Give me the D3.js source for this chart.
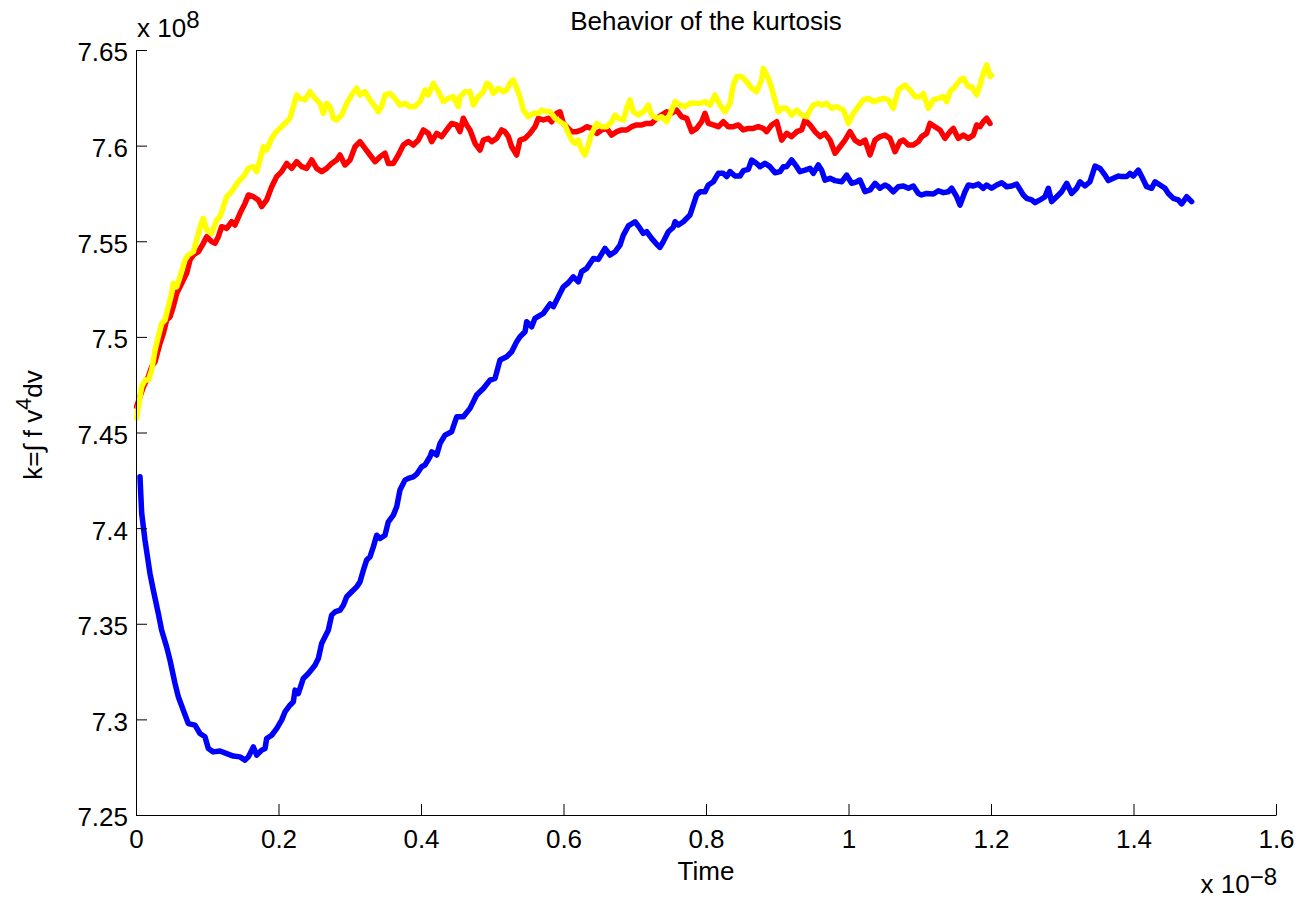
<!DOCTYPE html>
<html>
<head>
<meta charset="utf-8">
<script src="https://cdn.jsdelivr.net/npm/d3@7"></script>
<style>
  body { margin: 0; background: #fff; }
  svg text { font-family: "Liberation Sans", Arial, Helvetica, sans-serif; fill: #000; }
</style>
</head>
<body>
<div id="chart"></div>
<script>
// ticks (time in units of 1e-8, kurtosis in units of 1e8)
var xTicks = [0, 0.2, 0.4, 0.6, 0.8, 1, 1.2, 1.4, 1.6];
var xTickLabels = ["0", "0.2", "0.4", "0.6", "0.8", "1", "1.2", "1.4", "1.6"];
var yTicks = [7.25, 7.3, 7.35, 7.4, 7.45, 7.5, 7.55, 7.6, 7.65];
var yTickLabels = ["7.25", "7.3", "7.35", "7.4", "7.45", "7.5", "7.55", "7.6", "7.65"];

// [time, k] pairs
var blueSeries = [
  [0.0056,7.4268],[0.0080,7.4077],[0.0126,7.3937],[0.0196,7.3763],[0.0243,7.3676],[0.0313,7.3554],
  [0.0360,7.3466],[0.0430,7.3379],[0.0477,7.3310],[0.0547,7.3188],[0.0594,7.3118],[0.0664,7.3048],
  [0.0734,7.2978],[0.0828,7.2970],[0.0898,7.2926],[0.0968,7.2909],[0.1015,7.2848],[0.1085,7.2830],
  [0.1179,7.2835],[0.1273,7.2821],[0.1366,7.2808],[0.1460,7.2804],[0.1530,7.2787],[0.1577,7.2804],
  [0.1647,7.2856],[0.1694,7.2813],[0.1764,7.2839],[0.1811,7.2848],[0.1834,7.2900],[0.1904,7.2917],
  [0.1974,7.2952],[0.2044,7.2996],[0.2091,7.3039],[0.2161,7.3074],[0.2208,7.3092],[0.2232,7.3153],
  [0.2278,7.3135],[0.2348,7.3214],[0.2419,7.3240],[0.2512,7.3283],[0.2559,7.3318],[0.2606,7.3397],
  [0.2653,7.3432],[0.2699,7.3466],[0.2746,7.3545],[0.2793,7.3562],[0.2863,7.3571],[0.2910,7.3597],
  [0.2957,7.3641],[0.3027,7.3667],[0.3097,7.3693],[0.3144,7.3719],[0.3191,7.3780],[0.3237,7.3833],
  [0.3284,7.3850],[0.3331,7.3902],[0.3378,7.3963],[0.3425,7.3946],[0.3495,7.3963],[0.3541,7.4033],
  [0.3612,7.4068],[0.3659,7.4112],[0.3705,7.4199],[0.3775,7.4251],[0.3822,7.4260],[0.3892,7.4268],
  [0.3939,7.4282],[0.4009,7.4321],[0.4056,7.4330],[0.4126,7.4373],
  [0.4150,7.4399],[0.4220,7.4382],[0.4267,7.4443],[0.4337,7.4486],[0.4430,7.4504],[0.4501,7.4582],
  [0.4594,7.4582],[0.4688,7.4626],[0.4781,7.4696],[0.4875,7.4730],[0.4968,7.4774],[0.5039,7.4783],
  [0.5109,7.4879],[0.5202,7.4896],[0.5273,7.4922],[0.5343,7.4975],[0.5389,7.5001],[0.5460,7.5027],
  [0.5483,7.5079],[0.5553,7.5053],[0.5600,7.5097],[0.5717,7.5123],[0.5811,7.5172],[0.5857,7.5158],
  [0.5927,7.5210],[0.5998,7.5262],[0.6068,7.5283],[0.6138,7.5314],[0.6208,7.5288],[0.6255,7.5341],
  [0.6325,7.5358],[0.6419,7.5410],[0.6489,7.5405],[0.6582,7.5463],[0.6653,7.5428],[0.6723,7.5445],
  [0.6793,7.5480],[0.6840,7.5532],[0.6910,7.5580],[0.7004,7.5602],[0.7074,7.5567],[0.7120,7.5541],
  [0.7167,7.5550],[0.7237,7.5515],[0.7308,7.5484],[0.7354,7.5468],[0.7401,7.5498],[0.7471,7.5550],
  [0.7541,7.5573],[0.7565,7.5602],[0.7612,7.5585],[0.7682,7.5602],[0.7775,7.5637],[0.7869,7.5742],
  [0.7916,7.5759],[0.7986,7.5759],[0.8033,7.5794],[0.8103,7.5811],[0.8173,7.5855],[0.8243,7.5855],
  [0.8290,7.5838],[0.8337,7.5864],[0.8407,7.5841],[0.8477,7.5841],[0.8524,7.5869],[0.8594,7.5876],
  [0.8641,7.5925],[0.8711,7.5907],[0.8758,7.5890],[0.8828,7.5907],[0.8898,7.5890],[0.8968,7.5858],
  [0.9039,7.5864],
  [0.9085,7.5890],[0.9132,7.5890],[0.9202,7.5925],[0.9273,7.5890],[0.9319,7.5864],[0.9389,7.5872],
  [0.9460,7.5881],[0.9506,7.5855],[0.9577,7.5899],[0.9623,7.5872],[0.9670,7.5820],[0.9740,7.5829],
  [0.9811,7.5817],[0.9904,7.5811],[0.9974,7.5846],[1.0044,7.5803],[1.0115,7.5811],[1.0161,7.5820],
  [1.0232,7.5759],[1.0302,7.5768],[1.0372,7.5803],[1.0442,7.5777],[1.0512,7.5794],[1.0559,7.5785],
  [1.0629,7.5759],[1.0699,7.5785],[1.0770,7.5789],[1.0840,7.5777],[1.0910,7.5789],[1.0980,7.5750],
  [1.1027,7.5742],[1.1097,7.5750],[1.1191,7.5747],[1.1261,7.5764],[1.1331,7.5754],[1.1401,7.5759],
  [1.1448,7.5777],[1.1518,7.5733],[1.1565,7.5689],[1.1635,7.5759],[1.1682,7.5794],[1.1752,7.5789],
  [1.1822,7.5799],[1.1892,7.5777],[1.1939,7.5794],[1.2009,7.5777],[1.2080,7.5794],[1.2150,7.5806],
  [1.2220,7.5785],[1.2290,7.5789],[1.2360,7.5799],[1.2454,7.5742],[1.2501,7.5724],[1.2571,7.5716],
  [1.2618,7.5702],[1.2688,7.5716],[1.2758,7.5733],[1.2805,7.5777],[1.2851,7.5707],[1.2922,7.5733],
  [1.2992,7.5759],[1.3062,7.5803],[1.3132,7.5750],[1.3202,7.5777],[1.3249,7.5811],[1.3319,7.5789],
  [1.3389,7.5811],[1.3460,7.5893],[1.3530,7.5881],[1.3600,7.5846],[1.3647,7.5817],[1.3717,7.5829],
  [1.3787,7.5841],[1.3834,7.5838],[1.3904,7.5838],[1.3951,7.5855],[1.3998,7.5841],[1.4068,7.5872],
  [1.4115,7.5838],[1.4185,7.5785],[1.4255,7.5777],[1.4302,7.5811],[1.4372,7.5794],[1.4442,7.5777],
  [1.4489,7.5750],[1.4559,7.5724],[1.4629,7.5716],[1.4676,7.5695],[1.4746,7.5733],[1.4816,7.5707]
];

var redSeries = [
  [0.0009,7.4635],[0.0056,7.4687],[0.0103,7.4739],[0.0173,7.4791],[0.0220,7.4844],[0.0267,7.4870],
  [0.0337,7.4966],[0.0384,7.5018],[0.0430,7.5088],[0.0477,7.5105],[0.0524,7.5158],[0.0571,7.5227],
  [0.0618,7.5262],[0.0664,7.5297],[0.0711,7.5332],[0.0758,7.5402],[0.0805,7.5428],[0.0875,7.5445],
  [0.0945,7.5489],[0.0992,7.5524],[0.1062,7.5498],[0.1109,7.5489],[0.1156,7.5524],
  [0.1202,7.5576],[0.1273,7.5567],[0.1343,7.5602],[0.1389,7.5585],[0.1460,7.5646],[0.1530,7.5698],
  [0.1577,7.5742],[0.1647,7.5733],[0.1717,7.5716],[0.1764,7.5681],[0.1834,7.5716],[0.1904,7.5785],
  [0.1974,7.5838],[0.2044,7.5864],[0.2115,7.5907],[0.2185,7.5881],[0.2255,7.5916],[0.2325,7.5890],
  [0.2395,7.5881],[0.2466,7.5925],[0.2536,7.5881],[0.2606,7.5864],[0.2676,7.5881],[0.2746,7.5907],
  [0.2816,7.5925],[0.2863,7.5951],[0.2933,7.5899],[0.3004,7.5925],[0.3074,7.5994],[0.3144,7.6021],
  [0.3214,7.5986],[0.3284,7.5951],[0.3354,7.5916],[0.3425,7.5942],[0.3495,7.5960],[0.3541,7.5907],
  [0.3612,7.5907],[0.3682,7.5951],[0.3752,7.6003],[0.3822,7.6021],[0.3892,7.6003],[0.3963,7.6029],
  [0.4033,7.6082],[0.4103,7.6064],[0.4150,7.6021],[0.4220,7.6064],[0.4290,7.6047],[0.4360,7.6082],
  [0.4430,7.6116],[0.4501,7.6108],[0.4547,7.6073],
  [0.4594,7.6143],[0.4641,7.6108],[0.4688,7.6082],[0.4758,7.6012],[0.4828,7.5977],[0.4875,7.6029],
  [0.4945,7.6038],[0.4992,7.6021],[0.5062,7.6038],[0.5132,7.6082],[0.5179,7.6073],[0.5226,7.6047],
  [0.5273,7.5994],[0.5343,7.5951],[0.5389,7.6029],[0.5460,7.6038],[0.5530,7.6064],[0.5600,7.6099],
  [0.5647,7.6143],[0.5717,7.6134],[0.5787,7.6143],[0.5834,7.6125],[0.5904,7.6169],[0.5951,7.6177],
  [0.5998,7.6116],[0.6044,7.6099],[0.6115,7.6073],[0.6185,7.6073],[0.6255,7.6082],[0.6325,7.6099],
  [0.6395,7.6090],[0.6466,7.6064],[0.6536,7.6082],[0.6606,7.6090],[0.6676,7.6055],[0.6746,7.6073],
  [0.6816,7.6082],[0.6887,7.6082],[0.6957,7.6099],[0.7027,7.6108],[0.7097,7.6108],[0.7167,7.6116],
  [0.7237,7.6116],[0.7308,7.6143],[0.7378,7.6160],[0.7448,7.6177],[0.7518,7.6169],[0.7588,7.6186],
  [0.7659,7.6151],[0.7729,7.6143],[0.7799,7.6073],[0.7869,7.6090],[0.7939,7.6125],[0.7986,7.6169],
  [0.8033,7.6116],[0.8103,7.6108],[0.8173,7.6099],[0.8243,7.6125],[0.8313,7.6099],[0.8384,7.6099],
  [0.8454,7.6108],[0.8524,7.6082],[0.8594,7.6090],[0.8664,7.6090],[0.8734,7.6099],[0.8805,7.6090],
  [0.8852,7.6073],[0.8922,7.6108],[0.8992,7.6125],[0.9062,7.6029],[0.9132,7.6064],[0.9202,7.6047],
  [0.9273,7.6073],[0.9343,7.6082],[0.9389,7.6134],[0.9460,7.6108],[0.9530,7.6073],[0.9600,7.6047],
  [0.9670,7.6064],[0.9740,7.6029],[0.9811,7.5960],[0.9881,7.5994],[0.9951,7.6029],[1.0021,7.6073],
  [1.0091,7.6029],[1.0161,7.6012],[1.0232,7.6029],[1.0302,7.5951],[1.0372,7.6029],[1.0442,7.6047],
  [1.0512,7.6055],[1.0582,7.6038],[1.0653,7.5968],[1.0723,7.6021],
  [1.0770,7.6029],[1.0840,7.6003],[1.0910,7.6003],[1.0980,7.6021],[1.1027,7.6047],[1.1097,7.6064],
  [1.1144,7.6116],[1.1214,7.6099],[1.1284,7.6082],[1.1354,7.6038],[1.1425,7.6073],[1.1471,7.6090],
  [1.1541,7.6038],[1.1612,7.6055],[1.1682,7.6038],[1.1752,7.6055],[1.1799,7.6108],[1.1846,7.6099],
  [1.1892,7.6125],[1.1939,7.6143],[1.1986,7.6116]
];

var yellowSeries = [
  [0.0009,7.4574],[0.0033,7.4635],[0.0080,7.4739],[0.0126,7.4774],[0.0173,7.4774],[0.0220,7.4826],
  [0.0267,7.4931],[0.0313,7.5001],[0.0360,7.5070],[0.0407,7.5088],[0.0454,7.5158],[0.0501,7.5227],
  [0.0524,7.5280],[0.0571,7.5262],[0.0618,7.5314],[0.0688,7.5402],[0.0734,7.5428],[0.0805,7.5445],
  [0.0851,7.5506],[0.0922,7.5602],[0.0945,7.5620],[0.0992,7.5559],[0.1062,7.5541],[0.1132,7.5611],
  [0.1179,7.5628],[0.1226,7.5681],[0.1273,7.5733],[0.1319,7.5750],[0.1389,7.5785],[0.1436,7.5811],
  [0.1506,7.5838],[0.1577,7.5881],[0.1647,7.5890],[0.1694,7.5864],[0.1740,7.5925],[0.1787,7.5994],
  [0.1834,7.5977],[0.1904,7.6038],[0.1951,7.6064],[0.1998,7.6082],[0.2068,7.6108],[0.2115,7.6125],
  [0.2161,7.6143],[0.2208,7.6204],[0.2255,7.6265],[0.2302,7.6247],[0.2372,7.6239],[0.2442,7.6282],
  [0.2512,7.6247],[0.2582,7.6221],[0.2629,7.6169],[0.2676,7.6221],[0.2723,7.6204],[0.2770,7.6143],
  [0.2816,7.6134],[0.2887,7.6160],[0.2957,7.6221],[0.3027,7.6265],[0.3097,7.6300],[0.3144,7.6265],
  [0.3214,7.6282],[0.3284,7.6239],[0.3354,7.6204],[0.3401,7.6177],[0.3448,7.6204],[0.3495,7.6265],
  [0.3565,7.6273],[0.3635,7.6247],[0.3705,7.6212],[0.3775,7.6221],[0.3846,7.6204],[0.3916,7.6204],
  [0.3986,7.6230],[0.4056,7.6291],[0.4103,7.6265],[0.4173,7.6326],[0.4243,7.6282],[0.4313,7.6230],
  [0.4384,7.6247],[0.4454,7.6256],[0.4524,7.6204],
  [0.4547,7.6256],[0.4618,7.6282],[0.4688,7.6282],[0.4735,7.6212],[0.4805,7.6256],[0.4875,7.6282],
  [0.4922,7.6326],[0.4968,7.6317],[0.5015,7.6273],[0.5085,7.6300],[0.5156,7.6282],[0.5202,7.6291],
  [0.5249,7.6326],[0.5296,7.6343],[0.5343,7.6300],[0.5389,7.6256],[0.5436,7.6186],[0.5506,7.6151],
  [0.5577,7.6169],[0.5647,7.6169],[0.5694,7.6186],[0.5764,7.6177],[0.5811,7.6177],[0.5881,7.6143],
  [0.5951,7.6125],[0.6021,7.6108],[0.6068,7.6064],[0.6115,7.6029],[0.6161,7.6012],[0.6208,7.6029],
  [0.6255,7.5977],[0.6302,7.5951],[0.6348,7.6003],[0.6395,7.6064],[0.6466,7.6116],[0.6536,7.6099],
  [0.6606,7.6099],[0.6676,7.6125],[0.6723,7.6160],[0.6770,7.6143],[0.6840,7.6134],[0.6887,7.6195],
  [0.6933,7.6239],[0.6980,7.6177],[0.7050,7.6160],[0.7120,7.6177],[0.7191,7.6212],[0.7237,7.6160],
  [0.7308,7.6143],[0.7378,7.6151],[0.7448,7.6125],[0.7518,7.6186],[0.7565,7.6230],[0.7635,7.6212],
  [0.7705,7.6204],[0.7775,7.6221],[0.7846,7.6221],[0.7916,7.6221],[0.7986,7.6230],[0.8056,7.6212],
  [0.8126,7.6265],[0.8196,7.6212],[0.8267,7.6177],[0.8337,7.6221],[0.8384,7.6317],[0.8430,7.6361],
  [0.8501,7.6361],[0.8571,7.6334],[0.8641,7.6300],[0.8711,7.6282],[0.8781,7.6343],[0.8805,7.6404],
  [0.8875,7.6352],[0.8922,7.6300],[0.8968,7.6239],[0.9015,7.6177],[0.9062,7.6195],[0.9132,7.6195],
  [0.9202,7.6160],[0.9273,7.6186],[0.9343,7.6160],[0.9413,7.6151],[0.9460,7.6186],[0.9506,7.6212],
  [0.9577,7.6221],[0.9623,7.6212],[0.9694,7.6221],[0.9764,7.6195],[0.9834,7.6204],[0.9928,7.6186],
  [0.9998,7.6116],[1.0068,7.6169],[1.0138,7.6204],[1.0208,7.6239],[1.0278,7.6247],[1.0349,7.6230],
  [1.0419,7.6239],[1.0489,7.6247],[1.0559,7.6239],[1.0629,7.6195],[1.0699,7.6291],
  [1.0793,7.6317],[1.0863,7.6291],[1.0933,7.6256],[1.1004,7.6256],[1.1050,7.6273],[1.1121,7.6195],
  [1.1191,7.6239],[1.1261,7.6247],[1.1331,7.6256],[1.1378,7.6230],[1.1425,7.6282],[1.1495,7.6308],
  [1.1565,7.6343],[1.1612,7.6352],[1.1682,7.6308],[1.1729,7.6308],[1.1799,7.6265],[1.1846,7.6317],
  [1.1892,7.6378],[1.1939,7.6422],[1.1986,7.6361],[1.2009,7.6369]
];

var seriesList = [
  { data: blueSeries, color: "#0000ff" },
  { data: redSeries, color: "#ff0000" },
  { data: yellowSeries, color: "#ffff00" }
];

var width = 1301, height = 898;
var margin = { top: 50, right: 25, bottom: 83, left: 136 };
var fontSize = 26;

var svg = d3.select("#chart").append("svg")
  .attr("width", width)
  .attr("height", height);

var x = d3.scaleLinear().domain([0, 1.6]).range([margin.left, width - margin.right]);
var y = d3.scaleLinear().domain([7.25, 7.65]).range([height - margin.bottom, margin.top]);

// data lines
var line = d3.line()
  .x(function(d) { return x(d[0]); })
  .y(function(d) { return y(d[1]); });

svg.selectAll("path.series")
  .data(seriesList)
  .enter().append("path")
  .attr("class", "series")
  .attr("d", function(d) { return line(d.data); })
  .style("fill", "none")
  .style("stroke", function(d) { return d.color; })
  .style("stroke-width", "5.5px")
  .style("stroke-linejoin", "round")
  .style("stroke-linecap", "round");

// axes, ticks pointing inward like matlab
var xAxis = d3.axisBottom(x)
  .tickValues(xTicks)
  .tickFormat(function(d, i) { return xTickLabels[i]; })
  .tickSize(-11)
  .tickSizeOuter(0)
  .tickPadding(15);

var yAxis = d3.axisLeft(y)
  .tickValues(yTicks)
  .tickFormat(function(d, i) { return yTickLabels[i]; })
  .tickSize(-11)
  .tickSizeOuter(0)
  .tickPadding(8);

var gx = svg.append("g")
  .attr("transform", "translate(0," + (height - margin.bottom) + ")")
  .call(xAxis);
var gy = svg.append("g")
  .attr("transform", "translate(" + margin.left + ",0)")
  .call(yAxis);

[gx, gy].forEach(function(g) {
  g.attr("font-family", null).attr("font-size", null);
  g.selectAll("text").style("font-size", fontSize + "px");
  g.selectAll("line").style("stroke", "#000");
  g.select(".domain").style("stroke", "#000");
});
gy.selectAll("text").attr("dy", "0.42em");

// title
svg.append("text")
  .attr("x", (x(0) + x(1.6)) / 2)
  .attr("y", 30)
  .attr("text-anchor", "middle")
  .style("font-size", fontSize + "px")
  .text("Behavior of the kurtosis");

// x label
svg.append("text")
  .attr("x", (x(0) + x(1.6)) / 2)
  .attr("y", 880)
  .attr("text-anchor", "middle")
  .style("font-size", fontSize + "px")
  .text("Time");

// exponent labels
var expY = svg.append("text")
  .attr("x", margin.left + 1)
  .attr("y", 37)
  .style("font-size", fontSize + "px");
expY.append("tspan").text("x 10");
expY.append("tspan").attr("dy", -9).style("font-size", "24px").text("8");

var expX = svg.append("text")
  .attr("x", x(1.6) + 1)
  .attr("y", 893)
  .attr("text-anchor", "end")
  .style("font-size", fontSize + "px");
expX.append("tspan").text("x 10");
expX.append("tspan").attr("dy", -8).style("font-size", "24px").text("\u22128");

// y label
var ylab = svg.append("text")
  .attr("transform", "translate(42," + 425 + ") rotate(-90)")
  .attr("text-anchor", "middle")
  .style("font-size", fontSize + "px");
ylab.append("tspan").text("k=\u222B f v");
ylab.append("tspan").attr("dy", -11).style("font-size", "22px").text("4");
ylab.append("tspan").attr("dy", 11).text("dv");
</script>
</body>
</html>
